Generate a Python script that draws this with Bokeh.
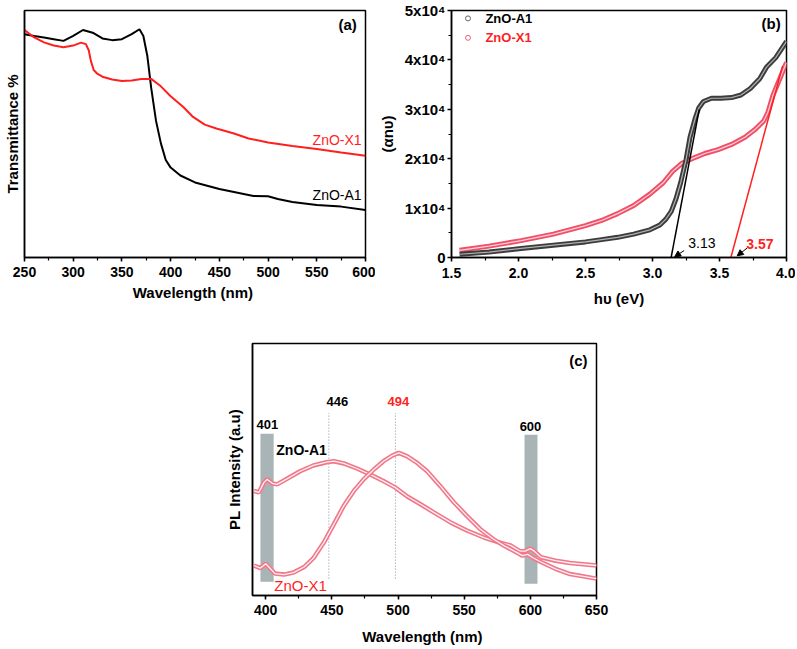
from bokeh.plotting import figure
from bokeh.layouts import column, row
from bokeh.models import (Range1d, SingleIntervalTicker, FixedTicker, NumeralTickFormatter,
                          Arrow, NormalHead, GlobalInlineStyleSheet)
from bokeh.core.properties import value
from bokeh.embed import file_html
from bokeh.resources import INLINE

FONT = "Liberation Sans"

# ---------------- (a) Transmittance ----------------
a_wl_A1 = [250, 260, 270, 280, 290, 300, 310, 320, 330, 340, 350, 360, 368, 372, 376, 380, 385, 390,
           395, 400, 410, 425, 450, 475, 485, 500, 510, 525, 550, 575, 600]
a_T_A1 = [90.4, 89.7, 89.1, 88.4, 87.7, 89.7, 92.1, 91.0, 88.7, 88.0, 88.4, 90.4, 92.4, 89.7, 81.8,
          68.8, 55.3, 46.2, 39.5, 36.4, 33.2, 30.4, 27.7, 25.7, 24.9, 24.8, 23.7, 22.5, 21.3, 20.6, 19.2]
a_wl_X1 = [250, 260, 270, 280, 290, 300, 308, 313, 316, 318, 321, 325, 330, 340, 350, 360, 370, 380,
           390, 400, 413, 423, 435, 447, 465, 480, 500, 525, 550, 575, 600]
a_T_X1 = [92.1, 89.1, 87.1, 85.8, 85.1, 85.8, 87.0, 86.4, 83.8, 79.8, 75.9, 74.3, 73.2, 72.1, 71.5,
          71.7, 72.3, 72.3, 69.3, 65.3, 60.9, 56.9, 53.8, 52.2, 50.2, 48.2, 46.6, 45.1, 43.9, 42.5, 41.2]

# ---------------- (b) Tauc-type plot ----------------
b_E_A1 = [1.56, 1.78, 2.02, 2.26, 2.50, 2.62, 2.74, 2.86, 2.98, 3.055, 3.10, 3.14, 3.175, 3.21, 3.25,
          3.28, 3.32, 3.345, 3.38, 3.44, 3.51, 3.59, 3.66, 3.73, 3.80, 3.85, 3.92, 4.00]
b_v_A1 = [660, 1100, 1840, 2500, 3160, 3620, 4080, 4740, 5600, 6580, 7760, 9340, 11840, 15130, 19740,
          24340, 28290, 30260, 31580, 32240, 32240, 32370, 32890, 34210, 36180, 38490, 40460, 43750]
b_E_X1 = [1.56, 1.78, 2.02, 2.26, 2.50, 2.62, 2.74, 2.86, 2.98, 3.08, 3.15, 3.22, 3.30, 3.39, 3.49,
          3.59, 3.69, 3.76, 3.83, 3.86, 3.90, 3.95, 4.00]
b_v_X1 = [1450, 2300, 3420, 4740, 6450, 7500, 8880, 10530, 12830, 15130, 17430, 19080, 20070, 21050,
          21840, 22890, 24340, 25790, 27630, 29280, 32890, 36180, 39470]
b_fit_A1_x = [3.139, 3.349]
b_fit_A1_y = [0, 30000]
b_fit_X1_x = [3.585, 3.971]
b_fit_X1_y = [0, 38800]
b_gap_labels = ["3.13", "3.57"]
b_yticks = [0, 10000, 20000, 30000, 40000, 50000]
b_ytick_labels = ["0", "1x10\u2074", "2x10\u2074", "3x10\u2074", "4x10\u2074", "5x10\u2074"]

# ---------------- (c) PL spectra ----------------
c_wl_A1 = [391, 394.8, 398.6, 401, 404.9, 408.6, 416, 426, 436, 446, 451.5, 459, 469, 479, 489, 498,
           507, 517, 527, 539.7, 552, 565, 575, 585, 592, 596, 600, 603, 608, 619, 630, 650]
c_I_A1 = [41.5, 40.9, 44.8, 46.1, 44.5, 44.1, 46.3, 49.3, 51.6, 52.9, 53.3, 52.4, 50.4, 48.0, 45.4, 42.8,
          39.3, 36.2, 33.0, 29.0, 25.8, 23.0, 21.3, 19.9, 17.6, 17.6, 18.6, 17.6, 15.2, 13.8, 12.9, 11.9]
c_wl_X1 = [391, 396, 400, 403.6, 407, 413.7, 421, 429, 436, 444, 451.5, 459, 466.6, 474, 481.7, 489,
           495.6, 500.6, 507, 514.5, 522, 532, 542, 552, 562, 572, 580, 590, 594, 598, 602, 608, 619, 630, 650]
c_I_X1 = [11.9, 10.9, 12.6, 10.6, 8.7, 8.3, 9.1, 11.3, 14.8, 21.1, 28.3, 35.6, 41.5, 46.1, 50.0, 53.3,
          55.5, 56.6, 55.2, 52.6, 49.3, 43.4, 37.1, 31.6, 26.4, 22.4, 19.8, 17.0, 15.8, 16.3, 15.0, 13.3,
          10.6, 8.5, 6.7]
c_band_left = [396, 595.6]
c_band_right = [406, 605.4]
c_band_bottom = [5.5, 4.7]
c_band_top = [64.2, 63.8]
c_band_labels = ["401", "600"]
c_peak_lines = [447.7, 498]
c_peak_labels = ["446", "494"]


def style(p, xlabel, ylabel):
    p.outline_line_color = "black"
    p.outline_line_width = 1.5
    p.outline_line_alpha = 1.0
    p.background_fill_color = "white"
    p.border_fill_color = "white"
    p.xgrid.visible = False
    p.ygrid.visible = False
    for ax in p.axis:
        ax.axis_line_width = 1.5
        ax.axis_line_color = "black"
        ax.major_tick_in = 0
        ax.major_tick_out = 4
        ax.minor_tick_in = 0
        ax.minor_tick_out = 3
        ax.major_tick_line_width = 1.5
        ax.minor_tick_line_width = 1.2
        ax.major_label_text_font = FONT
        ax.major_label_text_font_style = "bold"
        ax.major_label_text_font_size = "14px"
        ax.major_label_text_color = "black"
        ax.axis_label_text_font = FONT
        ax.axis_label_text_font_style = "bold"
        ax.axis_label_text_font_size = "15px"
        ax.axis_label_text_color = "black"
    p.xaxis.axis_label = xlabel
    p.yaxis.axis_label = ylabel


def txt(p, x, y, s, color="black", size="14px", bold=False, align="left"):
    p.text(x=[x], y=[y], text=[s], text_font=value(FONT), text_font_size=size,
           text_font_style="bold" if bold else "normal", text_color=color,
           text_align=align, text_baseline="middle")


# ---------- figure (a) ----------
pa = figure(width=375, height=320, x_range=Range1d(250, 600), y_range=Range1d(0, 100),
            output_backend="svg", toolbar_location=None,
            min_border_left=23, min_border_right=10, min_border_top=4, min_border_bottom=63)
style(pa, "Wavelength  (nm)", "Transmittance %")
pa.xaxis.ticker = SingleIntervalTicker(interval=50, num_minor_ticks=2)
pa.xaxis.major_label_standoff = 5
pa.xaxis.axis_label_standoff = 4
pa.yaxis.ticker = FixedTicker(ticks=[])
pa.yaxis.axis_label_standoff = 4
pa.line(a_wl_A1, a_T_A1, line_color="black", line_width=2)
pa.line(a_wl_X1, a_T_X1, line_color="#ff1f1f", line_width=2)
txt(pa, 596, 47.4, "ZnO-X1", color="#ff1f1f", size="14px", align="right")
txt(pa, 596, 25.3, "ZnO-A1", color="black", size="14px", align="right")
txt(pa, 591, 94.5, "(a)", bold=True, size="15px", align="right")

# ---------- figure (b) ----------
pb = figure(width=420, height=320, x_range=Range1d(1.5, 4.0), y_range=Range1d(0, 50000),
            output_backend="svg", toolbar_location=None,
            min_border_left=65, min_border_right=9, min_border_top=10, min_border_bottom=57)
style(pb, "h\u03c5 (eV)", "(\u03b1n\u03c5)")
pb.xaxis.ticker = SingleIntervalTicker(interval=0.5, num_minor_ticks=2)
pb.xaxis.formatter = NumeralTickFormatter(format="0.0")
pb.xaxis.major_label_standoff = 6
pb.xaxis.axis_label_standoff = 9
pb.yaxis.ticker = SingleIntervalTicker(interval=10000, num_minor_ticks=2)
pb.yaxis.major_label_overrides = {t: s for t, s in zip(b_yticks, b_ytick_labels)}
pb.yaxis.major_label_text_font_size = "15px"
pb.yaxis.major_label_standoff = 2
pb.yaxis.axis_label_standoff = 6

pb.line(b_E_X1, b_v_X1, line_color="#ef5068", line_width=5)
pb.line(b_E_X1, b_v_X1, line_color="#ffd0d8", line_width=1.2)
pb.line(b_E_A1, b_v_A1, line_color="#3c3c3c", line_width=5)
pb.line(b_E_A1, b_v_A1, line_color="#b0b0b0", line_width=1.2)
pb.line(b_fit_A1_x, b_fit_A1_y, line_color="black", line_width=1.5)
pb.line(b_fit_X1_x, b_fit_X1_y, line_color="#ff1f1f", line_width=1.5)
pb.add_layout(Arrow(end=NormalHead(size=6, fill_color="black", line_color="black", line_width=1),
                    x_start=3.236, y_start=1400, x_end=3.165, y_end=150,
                    line_color="black", line_width=1))
pb.add_layout(Arrow(end=NormalHead(size=6, fill_color="black", line_color="black", line_width=1),
                    x_start=3.706, y_start=1900, x_end=3.632, y_end=350,
                    line_color="black", line_width=1))
txt(pb, 3.267, 3000, b_gap_labels[0], color="black", size="14px")
txt(pb, 3.70, 2800, b_gap_labels[1], color="#ff1f1f", size="14px", bold=True)
# legend
pb.scatter([1.623], [48400], marker="circle", size=5, fill_color="white", line_color="#666666", line_width=1)
pb.scatter([1.623], [44470], marker="circle", size=5, fill_color="white", line_color="#f06080", line_width=1)
txt(pb, 1.753, 48400, "ZnO-A1", color="black", size="13px", bold=True)
txt(pb, 1.753, 44470, "ZnO-X1", color="#ff1f1f", size="13px", bold=True)
txt(pb, 3.957, 47300, "(b)", bold=True, size="15px", align="right")

# ---------- figure (c) ----------
pc = figure(width=626, height=327, x_range=Range1d(390, 650), y_range=Range1d(0, 100),
            output_backend="svg", toolbar_location=None,
            min_border_left=252, min_border_right=30, min_border_top=23, min_border_bottom=50)
style(pc, "Wavelength  (nm)", "PL Intensity (a.u)")
pc.xaxis.ticker = SingleIntervalTicker(interval=50, num_minor_ticks=2)
pc.xaxis.major_label_standoff = 5
pc.xaxis.axis_label_standoff = 10
pc.yaxis.ticker = FixedTicker(ticks=[])
pc.yaxis.axis_label_standoff = 10

pc.quad(left=c_band_left, right=c_band_right, bottom=c_band_bottom, top=c_band_top,
        fill_color="#a9b4b6", line_color=None)
pc.segment(x0=c_peak_lines, y0=[6.7, 6.7], x1=c_peak_lines, y1=[72.4, 72.4],
           line_color="#7f95a5", line_width=1, line_dash="1 2")
for xs, ys in ((c_wl_A1, c_I_A1), (c_wl_X1, c_I_X1)):
    pc.line(xs, ys, line_color="#f0788a", line_width=4.5)
    pc.line(xs, ys, line_color="#fff0f2", line_width=1.3)
txt(pc, 401.3, 67.7, c_band_labels[0], bold=True, size="13px", align="center")
txt(pc, 600.1, 66.9, c_band_labels[1], bold=True, size="13px", align="center")
txt(pc, 446, 76.8, c_peak_labels[0], bold=True, size="13px")
txt(pc, 492, 76.8, c_peak_labels[1], color="#ff1f1f", bold=True, size="13px")
txt(pc, 408, 57.9, "ZnO-A1", bold=True, size="14px")
txt(pc, 406.5, 3.9, "ZnO-X1", color="#ff1f1f", size="15px")
txt(pc, 643.2, 93.3, "(c)", bold=True, size="15px", align="right")

layout = column(row(pa, pb), pc,
                stylesheets=[GlobalInlineStyleSheet(css="body{margin:0 !important;}")])

open("out.html", "w").write(file_html(layout, INLINE))
